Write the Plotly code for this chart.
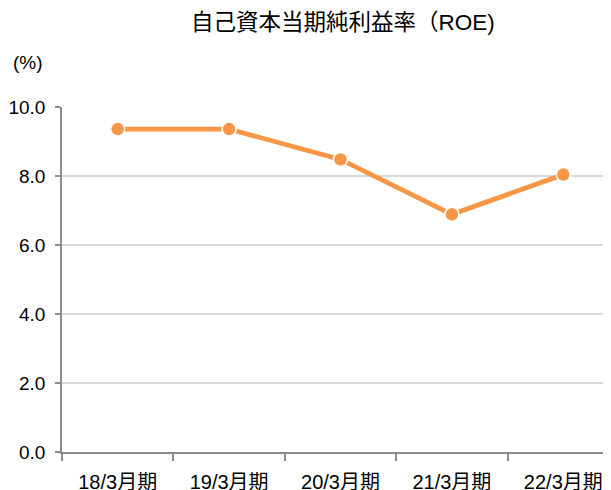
import plotly.graph_objects as go

categories = ["18/3月期", "19/3月期", "20/3月期", "21/3月期", "22/3月期"]
roe = [9.36, 9.36, 8.48, 6.89, 8.04]
y_ticks = [0, 2, 4, 6, 8, 10]
y_tick_labels = ["0.0", "2.0", "4.0", "6.0", "8.0", "10.0"]

font_family = "Liberation Sans, Arial, Noto Sans CJK JP, sans-serif"

fig = go.Figure()
fig.add_trace(go.Scatter(
    x=categories, y=roe, mode="lines+markers",
    line=dict(color="#F79646", width=4.8),
    marker=dict(color="#F79646", size=14, line=dict(color="white", width=1.5)),
    showlegend=False, cliponaxis=False,
))

fig.update_layout(
    width=611, height=490,
    margin=dict(l=54, r=0, t=99, b=46),
    paper_bgcolor="white", plot_bgcolor="white",
    font=dict(family=font_family, color="#000000", size=16),
    title=dict(text="自己資本当期純利益率（ROE)", x=0.548, xanchor="center",
               y=0.9714, yanchor="middle", font=dict(size=22.5, family=font_family)),
    annotations=[dict(text="(%)", xref="paper", yref="paper", x=-0.061, y=1.13,
                      xanchor="center", yanchor="middle",
                      showarrow=False, font=dict(size=19))],
)

fig.update_xaxes(
    type="category", range=[-0.5, 4.5],
    tickson="boundaries", ticks="outside", ticklen=7, tickcolor="#8C8C8C", tickwidth=1.5,
    showline=True, linecolor="#8C8C8C", linewidth=1.5,
    showgrid=False, tickfont=dict(size=20), ticklabelstandoff=11,
)
fig.update_yaxes(
    range=[0, 10], tickvals=y_ticks, ticktext=y_tick_labels,
    ticks="outside", ticklen=5, tickcolor="#8C8C8C", tickwidth=1.5,
    showline=True, linecolor="#8C8C8C", linewidth=1.5,
    showgrid=True, gridcolor="#D9D9D9", gridwidth=1.5,
    zeroline=False, tickfont=dict(size=19), ticklabelstandoff=6,
)

fig.write_html("out.html")
